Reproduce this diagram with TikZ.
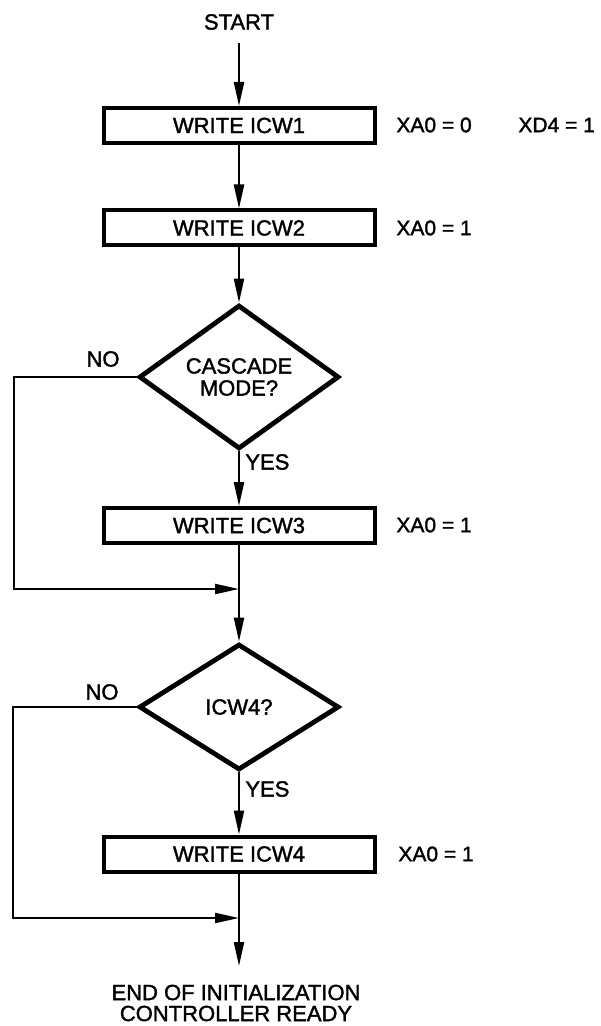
\documentclass[tikz,border=0pt]{standalone}
\usepackage{fontspec}
\setmainfont{Liberation Sans}[RawFeature={embolden=1.6}]
\usetikzlibrary{shapes.geometric,arrows.meta}
\tikzset{
  boxnode/.style={draw, line width=2pt, minimum width=135.5pt, minimum height=17.5pt, inner sep=0pt, font=\fontsize{11}{13}\selectfont},
  decision/.style={diamond, draw, line width=2.4pt, minimum width=100pt, minimum height=63pt, inner sep=0pt, align=center, font=\fontsize{11}{11}\selectfont},
  conn/.style={line width=1.1pt, -{Triangle[length=12pt,width=5pt]}},
  lbl/.style={font=\fontsize{11}{13}\selectfont, inner sep=0pt},
  side/.style={font=\fontsize{10.5}{12}\selectfont, inner sep=0pt, anchor=west}
}
\begin{document}
\begin{tikzpicture}[x=0.5pt,y=-0.5pt]
\useasboundingbox (0,0) rectangle (600,1026);
\node[lbl] (start) at (239,22) {START};
\node[boxnode] (b1) at (239,125.5) {WRITE ICW1};
\node[boxnode] (b2) at (239,228) {WRITE ICW2};
\node[decision] (d1) at (239,377) {CASCADE\\MODE?};
\node[boxnode] (b3) at (239,525.5) {WRITE ICW3};
\node[decision] (d2) at (239,707) {ICW4?};
\node[boxnode] (b4) at (239,854) {WRITE ICW4};
\node[lbl, align=center, font=\fontsize{11}{10.5}\selectfont] (fin) at (236,1003) {END OF INITIALIZATION\\CONTROLLER READY};

\node[side] (r1a) at (396,125) {XA0 = 0};
\node[side] (r1b) at (518,125) {XD4 = 1};
\node[side] (r2) at (396,228) {XA0 = 1};
\node[side] (r3) at (396,525) {XA0 = 1};
\node[side] (r4) at (398,854) {XA0 = 1};

\node[lbl] (no1) at (103,359) {NO};
\node[lbl] (no2) at (102,692) {NO};
\node[lbl, anchor=west] (yes1) at (245,462) {YES};
\node[lbl, anchor=west] (yes2) at (245,789) {YES};

\coordinate (s0) at (239,43);
\coordinate (m1) at (239,589);
\coordinate (c1) at (14,589);
\coordinate (m2) at (239,918);
\coordinate (c2) at (13,918);
\coordinate (endtip) at (239,966);

\draw[conn] (s0) -- (b1);
\draw[conn] (b1) -- (b2);
\draw[conn] (b2) -- (d1);
\draw[conn] (d1) -- (b3);
\draw[conn] (b3) -- (d2);
\draw[conn] (d1.west) -| (c1) -- (m1);
\draw[conn] (d2) -- (b4);
\draw[conn] (b4) -- (endtip);
\draw[conn] (d2.west) -| (c2) -- (m2);
\end{tikzpicture}
\end{document}
